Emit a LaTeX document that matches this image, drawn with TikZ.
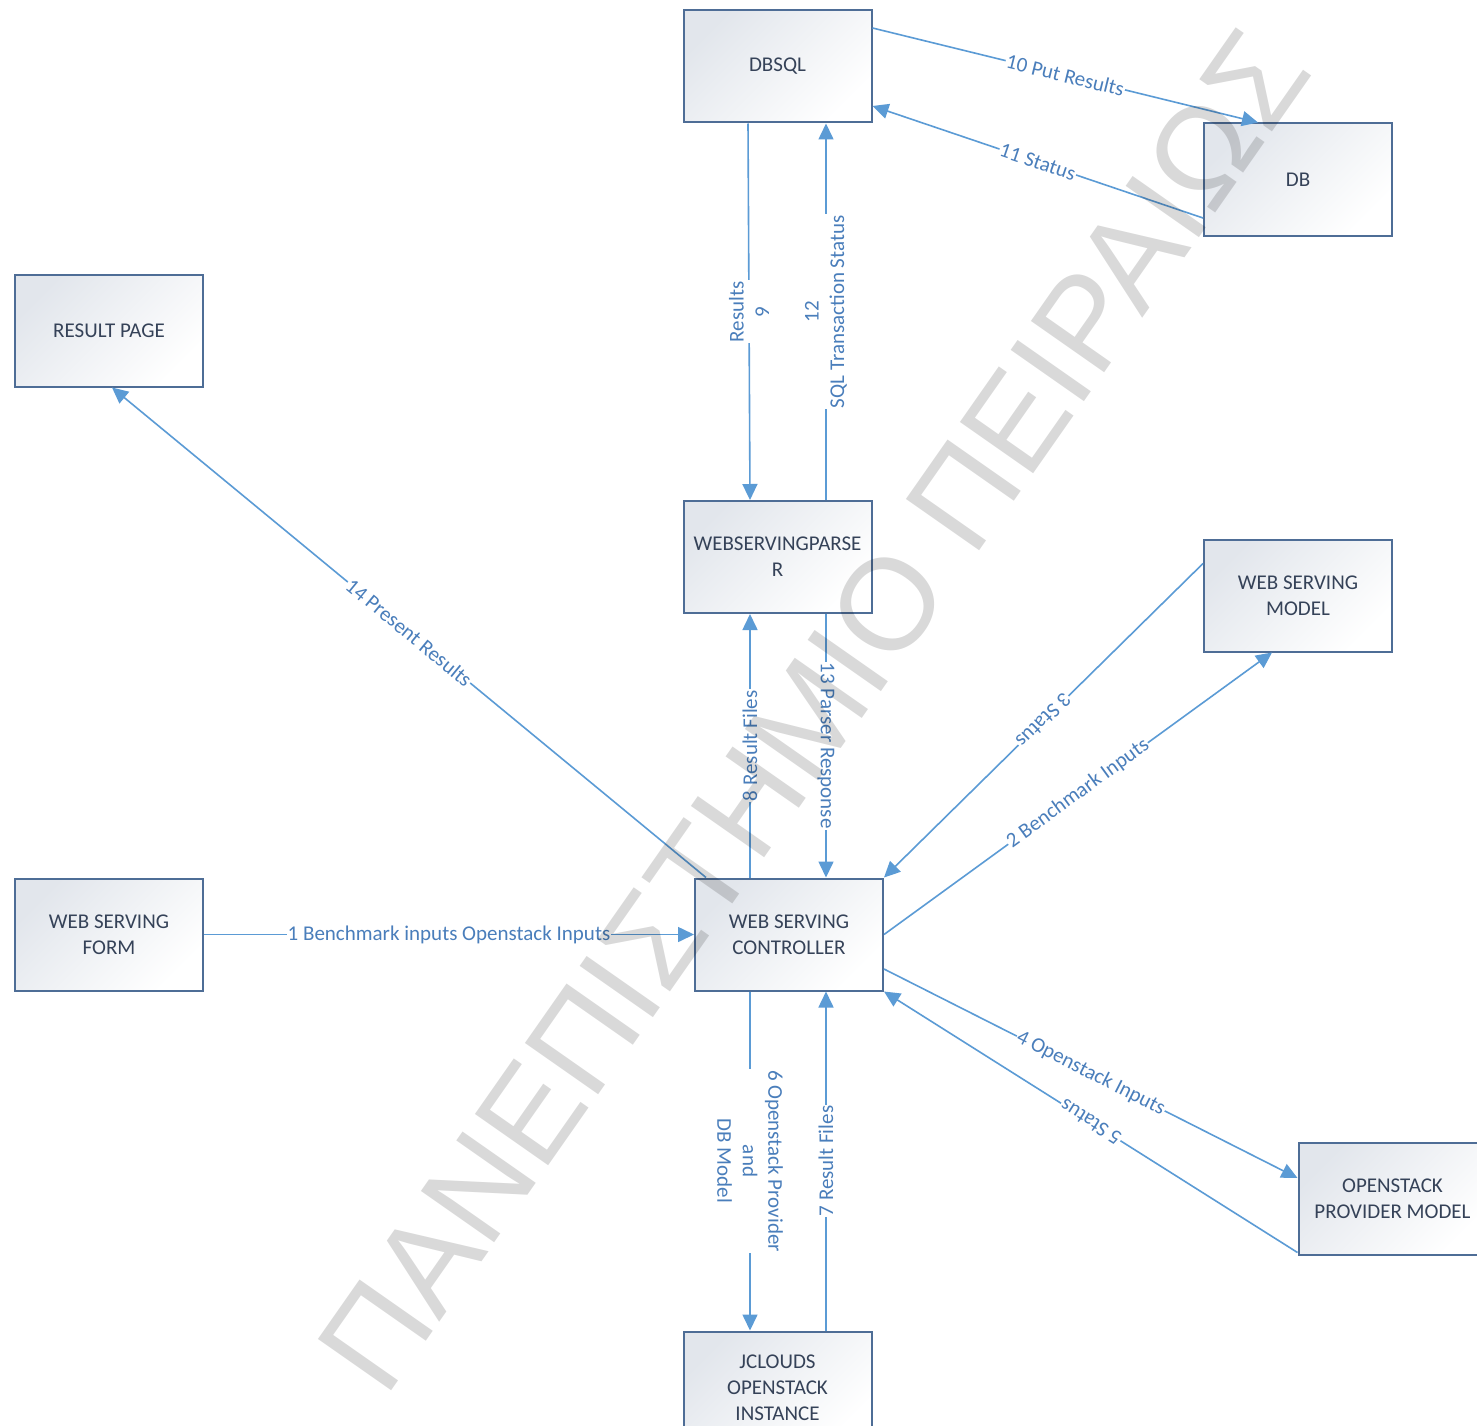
\documentclass[tikz,border=0pt]{standalone}
\usepackage{fontspec}
\setmainfont{Carlito}
\newfontfamily\wmfont{Liberation Sans}
\usetikzlibrary{arrows.meta,calc}

\definecolor{boxedge}{HTML}{4E6D96}
\definecolor{boxtext}{HTML}{354258}
\definecolor{boxtint}{HTML}{E2E6EC}
\definecolor{flow}{HTML}{5B9BD5}
\definecolor{flowtext}{HTML}{4A7EBB}

\begin{document}
\begin{tikzpicture}[x=1pt,y=-1pt,
  proc/.style={draw=boxedge, line width=2pt, minimum width=188pt, minimum height=112pt,
    inner sep=0pt, top color=boxtint, bottom color=white, shading angle=45,
    font=\fontsize{21}{26}\selectfont, text=boxtext, align=center},
  flowline/.style={draw=flow, line width=1.6pt, -{Triangle[length=16pt,width=15pt]}},
  lbl/.style={font=\fontsize{21}{25.5}\selectfont, text=flowtext, fill=white,
    inner sep=1pt, align=center},
]
\useasboundingbox (0,0) rectangle (1477,1426);
\fill[white] (0,0) rectangle (1477,1426);
\clip (0,0) rectangle (1477,1426);

% processes
\node[proc] (dbsql)   at (777.5,66.5)   {DBSQL};
\node[proc] (db)      at (1298,179.5)   {DB};
\node[proc] (result)  at (109,330.5)    {RESULT PAGE};
\node[proc] (parser)  at (777.5,557)    {WEBSERVINGPARSE\\R};
\node[proc] (model)   at (1298,595.5)   {WEB SERVING\\MODEL};
\node[proc] (form)    at (109,934.5)    {WEB SERVING\\FORM};
\node[proc] (ctrl)    at (789,934.5)    {WEB SERVING\\CONTROLLER};
\node[proc] (osmodel) at (1392.5,1198.5){OPENSTACK\\PROVIDER MODEL};
\node[proc] (jclouds) at (777.5,1387.5) {JCLOUDS\\OPENSTACK\\INSTANCE};

% data flows
\draw[flowline] (form.east) -- node[lbl]{1 Benchmark inputs Openstack Inputs} (ctrl.west);
\draw[flowline] (ctrl.east) -- node[lbl,sloped]{2 Benchmark Inputs} ($(model.south)+(-26,0)$);
\draw[flowline] ($(model.west)+(0,-32)$) -- node[lbl,sloped,allow upside down]{3 Status} (ctrl.north east);
\draw[flowline] ($(ctrl.east)+(0,34.5)$) -- node[lbl,sloped]{4 Openstack Inputs} ($(osmodel.west)+(0,-20.5)$);
\draw[flowline] ($(osmodel.south west)+(0,-3)$) -- node[lbl,sloped,allow upside down]{5 Status} (ctrl.south east);
\draw[flowline] ($(ctrl.south)+(-39,0)$) -- node[lbl,rotate=-90]{6 Openstack Provider\\and\\DB Model} ($(jclouds.north)+(-27.5,0)$);
\draw[flowline] ($(jclouds.north)+(48.5,0)$) -- node[lbl,rotate=90]{7 Result Files} ($(ctrl.south)+(37,0)$);
\draw[flowline] ($(ctrl.north)+(-39,0)$) -- node[lbl,rotate=90]{8 Result Files} ($(parser.south)+(-27.5,0)$);
\draw[flowline] ($(dbsql.south)+(-29.5,0)$) -- node[lbl,rotate=90]{Results\\9} ($(parser.north)+(-27.5,0)$);
\draw[flowline] ($(dbsql.east)+(0,-38.5)$) -- node[lbl,sloped]{10 Put Results} ($(db.north)+(-40,0)$);
\draw[flowline] ($(db.west)+(0,38.5)$) -- node[lbl,sloped]{11 Status} ($(dbsql.east)+(0,39.5)$);
\draw[flowline] ($(parser.north)+(48.5,0)$) -- node[lbl,rotate=90]{12\\SQL Transaction Status} ($(dbsql.south)+(48.5,0)$);
\draw[flowline] ($(parser.south)+(48.5,0)$) -- node[lbl,rotate=-90]{13 Parser Response} ($(ctrl.north)+(37,0)$);
\draw[flowline] ($(ctrl.north west)+(12,0)$) -- node[lbl,sloped]{14 Present Results} ($(result.south)+(3,0)$);

% watermark
\node[rotate=55, anchor=base, inner sep=0pt, text=black, text opacity=0.15,
  font=\wmfont\fontsize{130}{130}\selectfont] (wm) at (850,736) {ΠΑΝΕΠΙΣΤΗΜΙΟ ΠΕΙΡΑΙΩΣ};
\end{tikzpicture}
\end{document}
